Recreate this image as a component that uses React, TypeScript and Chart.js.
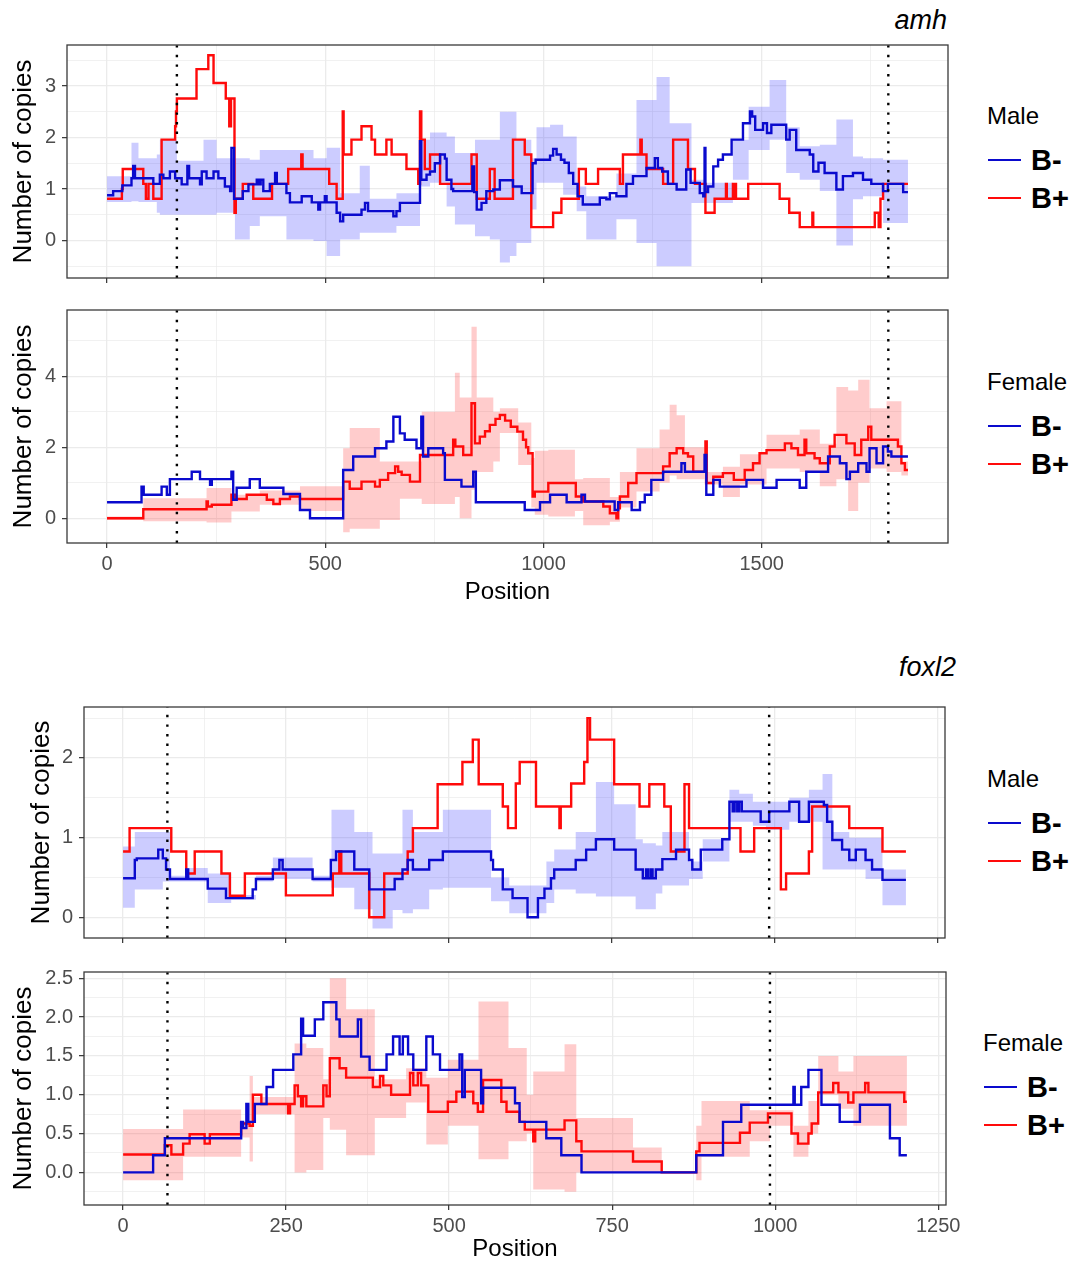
import React, { useEffect, useRef } from "react";
import { Chart, registerables } from "chart.js";
Chart.register(...registerables);

// ---------- DATA ----------
// step series: [position, copies] (value holds from position until the next one)
const amhMaleBminus = [[0,0.88],[14,0.96],[35,1.07],[56,1.21],[60,1.45],[64,1.21],[106,1.10],[121,1.28],[129,1.21],[144,1.34],[156,1.21],[171,1.09],[184,1.45],[188,1.21],[213,1.09],[217,1.34],[228,1.21],[244,1.34],[255,1.21],[270,1.05],[282,0.96],[285,1.80],[291,0.81],[311,0.96],[324,1.09],[343,1.18],[348,1.09],[352,1.18],[358,0.96],[373,1.10],[385,1.31],[389,1.10],[411,0.92],[419,0.74],[446,0.86],[469,0.74],[484,0.60],[488,0.74],[499,0.86],[503,0.74],[526,0.54],[534,0.37],[541,0.50],[583,0.60],[591,0.73],[598,0.57],[656,0.47],[663,0.57],[671,0.73],[717,1.93],[720,1.18],[732,1.28],[740,1.34],[751,1.50],[763,1.67],[774,1.59],[778,1.18],[789,1.00],[793,0.96],[837,1.44],[841,0.94],[847,0.60],[858,0.73],[869,0.96],[885,0.99],[900,1.17],[930,1.05],[950,0.92],[975,1.50],[982,1.57],[1015,1.65],[1022,1.78],[1030,1.67],[1040,1.57],[1048,1.51],[1058,1.31],[1068,1.10],[1078,0.86],[1090,0.70],[1129,0.83],[1144,0.80],[1152,0.92],[1167,0.86],[1190,1.10],[1205,1.25],[1236,1.41],[1255,1.60],[1262,1.41],[1272,1.34],[1285,1.10],[1305,0.99],[1327,1.38],[1337,1.12],[1358,0.92],[1366,0.86],[1369,1.80],[1371,0.94],[1377,1.05],[1389,1.44],[1400,1.57],[1411,1.67],[1431,1.96],[1457,2.28],[1473,2.51],[1478,2.41],[1485,2.15],[1503,2.28],[1512,2.09],[1522,2.25],[1556,1.96],[1564,2.15],[1579,1.76],[1610,1.67],[1618,1.34],[1630,1.51],[1644,1.31],[1671,0.99],[1686,1.25],[1709,1.31],[1732,1.18],[1751,1.10],[1778,0.96],[1789,1.10],[1824,0.94],[1835,0.94]];
const amhMaleBplus = [[0,0.81],[34,1.0],[36,1.39],[83,1.10],[89,0.81],[95,1.10],[106,0.81],[125,1.96],[156,2.22],[158,2.51],[160,2.76],[205,3.33],[232,3.60],[244,3.06],[272,2.76],[280,2.22],[284,2.76],[292,0.54],[295,0.81],[311,1.10],[335,0.81],[378,1.10],[415,1.39],[445,1.67],[448,1.39],[509,1.10],[526,0.81],[540,2.51],[542,1.67],[560,1.96],[583,2.22],[606,1.96],[614,1.67],[640,1.96],[652,1.67],[686,1.39],[713,1.10],[717,2.51],[720,1.96],[728,1.39],[740,1.67],[763,1.10],[835,1.67],[847,0.81],[877,1.39],[888,0.81],[930,1.96],[957,1.67],[972,0.26],[1022,0.54],[1041,0.81],[1081,1.39],[1097,1.10],[1125,1.39],[1175,1.10],[1182,1.67],[1222,1.96],[1225,1.67],[1236,1.39],[1274,1.10],[1297,1.96],[1331,1.39],[1347,1.10],[1371,0.54],[1392,0.81],[1418,1.10],[1420,0.81],[1434,1.10],[1436,0.81],[1438,1.10],[1441,0.81],[1469,1.10],[1541,0.81],[1563,0.54],[1587,0.26],[1616,0.54],[1618,0.26],[1759,0.54],[1768,0.26],[1772,0.81],[1778,1.10],[1835,1.10]];
// ribbons: [position, lower, upper]
const amhMaleBminusBand = [[0,0.75,1.25],[56,0.76,1.90],[72,0.75,1.60],[114,0.54,1.67],[121,0.50,1.96],[160,0.50,1.55],[221,0.50,1.96],[251,0.54,1.60],[293,0.02,1.60],[327,0.28,1.57],[350,0.47,1.76],[411,0.02,1.76],[473,-0.01,1.60],[503,-0.30,1.80],[534,0.02,0.92],[579,0.15,1.45],[602,0.15,0.81],[663,0.28,0.92],[717,1.05,1.96],[740,1.12,2.10],[778,0.66,2.02],[797,0.31,1.70],[843,0.08,1.96],[877,0.02,1.96],[900,-0.43,2.50],[923,-0.30,2.50],[938,-0.05,1.96],[972,0.60,1.60],[984,1.12,2.20],[1015,1.12,2.25],[1045,0.89,2.02],[1076,0.57,1.05],[1098,0.02,0.86],[1167,0.41,1.30],[1213,-0.05,2.73],[1259,-0.50,3.18],[1289,-0.50,2.28],[1339,0.73,1.18],[1369,0.73,1.12],[1434,1.18,1.96],[1470,1.76,2.60],[1518,1.96,3.12],[1556,1.31,2.20],[1587,1.18,1.83],[1633,0.96,1.86],[1671,-0.10,2.35],[1709,0.80,1.63],[1732,0.86,1.60],[1778,0.34,1.57],[1835,0.34,1.57]];

const amhFemaleBminus = [[0,0.45],[79,0.89],[84,0.66],[125,0.89],[137,0.66],[144,1.10],[194,1.31],[213,1.10],[236,0.94],[240,1.10],[285,1.31],[289,0.52],[297,0.86],[327,1.10],[350,0.86],[404,0.68],[442,0.23],[465,0.0],[541,1.36],[564,1.74],[614,1.97],[640,2.16],[656,2.86],[671,2.39],[682,2.21],[709,1.97],[720,2.86],[724,1.74],[736,1.97],[770,1.83],[774,1.08],[812,0.89],[839,1.31],[845,0.45],[957,0.23],[992,0.45],[1015,0.66],[1053,0.45],[1087,0.66],[1095,0.47],[1163,0.23],[1171,0.45],[1202,0.23],[1221,0.45],[1232,0.66],[1247,1.08],[1274,1.31],[1316,1.55],[1324,1.31],[1369,1.78],[1373,0.66],[1389,1.08],[1404,0.89],[1465,1.08],[1503,0.86],[1534,1.08],[1587,0.86],[1602,1.31],[1652,1.74],[1679,1.55],[1694,1.10],[1702,1.31],[1721,1.55],[1740,1.31],[1747,1.97],[1763,1.55],[1778,2.02],[1789,1.88],[1797,1.74],[1835,1.74]];
const amhFemaleBplus = [[0,0],[83,0.25],[228,0.47],[231,0.33],[240,0.38],[285,0.66],[293,0.54],[320,0.66],[366,0.52],[381,0.40],[396,0.54],[419,0.61],[442,0.54],[541,1.03],[556,0.83],[583,1.03],[614,0.89],[625,1.08],[644,1.27],[660,1.46],[667,1.31],[675,1.22],[694,1.03],[717,1.78],[793,2.21],[798,2.02],[816,1.78],[835,3.24],[843,2.11],[854,2.30],[866,2.45],[877,2.63],[890,2.80],[900,2.91],[912,2.75],[925,2.58],[940,2.44],[953,2.21],[960,2.00],[965,1.83],[975,0.61],[980,0.75],[1011,0.99],[1074,0.61],[1091,0.47],[1137,0.33],[1152,0.14],[1167,0.0],[1171,0.28],[1175,0.61],[1194,0.99],[1213,1.27],[1274,1.46],[1289,1.83],[1305,1.97],[1320,1.83],[1331,1.74],[1343,1.31],[1371,2.16],[1374,0.99],[1389,1.17],[1411,1.27],[1436,1.08],[1461,1.36],[1480,1.55],[1495,1.83],[1511,1.92],[1553,2.11],[1568,1.97],[1583,1.78],[1598,2.21],[1602,1.83],[1621,1.69],[1633,1.55],[1656,2.02],[1667,2.35],[1694,2.11],[1713,1.78],[1728,2.21],[1744,2.58],[1751,2.21],[1812,2.02],[1820,1.55],[1828,1.36],[1835,1.36]];
const amhFemaleBplusBand = [[0,-0.05,0.05],[83,-0.09,0.56],[228,-0.12,0.85],[285,0.19,0.66],[350,0.38,0.78],[442,0.20,0.90],[541,-0.40,1.97],[556,-0.30,2.54],[625,-0.05,1.60],[671,0.55,1.60],[721,0.40,3.00],[797,0.60,4.10],[808,0.00,3.40],[835,0.80,5.40],[847,1.30,3.40],[885,1.60,3.00],[900,2.40,3.10],[942,1.50,2.70],[972,0.30,1.70],[980,0.10,1.90],[1011,0.05,1.93],[1072,0.20,1.10],[1091,-0.20,1.13],[1152,-0.10,0.60],[1175,0.30,1.30],[1213,0.75,1.97],[1266,1.00,2.50],[1289,1.20,3.20],[1305,1.10,2.90],[1324,1.10,2.00],[1369,0.95,1.30],[1411,0.60,1.45],[1450,0.95,1.80],[1511,1.40,2.35],[1587,1.30,2.50],[1633,0.90,2.10],[1671,1.10,3.70],[1698,0.20,3.60],[1721,1.00,3.90],[1747,1.40,3.10],[1786,1.30,3.30],[1820,1.20,1.60],[1835,1.20,1.60]];

const foxl2MaleBminus = [[0,0.49],[18,0.72],[21,0.74],[54,0.85],[61,0.74],[66,0.60],[72,0.48],[97,0.6],[100,0.48],[130,0.36],[158,0.24],[199,0.35],[204,0.48],[230,0.6],[240,0.72],[245,0.6],[291,0.48],[319,0.72],[327,0.825],[355,0.6],[378,0.35],[417,0.48],[429,0.6],[437,0.72],[445,0.6],[470,0.72],[491,0.825],[565,0.72],[568,0.6],[583,0.35],[598,0.24],[621,0.0],[637,0.24],[647,0.36],[657,0.49],[662,0.6],[695,0.72],[711,0.85],[726,0.98],[754,0.85],[787,0.6],[798,0.49],[803,0.6],[806,0.49],[810,0.6],[813,0.49],[818,0.6],[828,0.73],[849,0.85],[869,0.72],[874,0.6],[887,0.85],[920,0.98],[931,1.45],[936,1.33],[939,1.45],[943,1.33],[946,1.45],[950,1.33],[979,1.2],[992,1.33],[1023,1.45],[1038,1.2],[1053,1.45],[1076,1.41],[1081,1.2],[1089,0.97],[1104,0.85],[1115,0.72],[1125,0.85],[1140,0.72],[1150,0.6],[1166,0.47],[1202,0.47]];
const foxl2MaleBplus = [[0,0.825],[10,1.12],[74,0.825],[97,0.55],[110,0.825],[151,0.55],[164,0.27],[187,0.55],[250,0.275],[322,0.55],[332,0.825],[335,0.55],[378,0.0],[401,0.55],[437,0.825],[445,1.12],[483,1.67],[521,1.95],[537,2.23],[546,1.67],[583,1.39],[591,1.12],[603,1.68],[609,1.95],[634,1.39],[670,1.12],[672,1.39],[688,1.68],[708,1.95],[713,2.5],[717,2.23],[754,1.67],[793,1.39],[808,1.67],[831,1.39],[841,0.825],[862,1.67],[869,1.12],[948,0.825],[969,1.12],[1010,0.35],[1018,0.55],[1053,0.825],[1058,1.39],[1115,1.12],[1166,0.825],[1202,0.825]];
const foxl2MaleBminusBand = [[0,0.12,0.89],[18,0.35,1.07],[61,0.45,1.07],[72,0.45,0.52],[97,0.45,0.62],[130,0.18,0.55],[166,0.22,0.28],[204,0.45,0.52],[230,0.48,0.75],[291,0.45,0.52],[320,0.37,1.35],[355,0.10,1.07],[383,-0.14,0.80],[414,0.09,0.80],[429,0.05,1.35],[445,0.10,1.07],[470,0.35,1.07],[491,0.37,1.35],[565,0.20,0.50],[593,0.05,0.40],[650,0.18,0.70],[662,0.35,0.85],[695,0.30,1.07],[726,0.26,1.70],[754,0.26,1.42],[787,0.10,0.98],[798,0.10,0.93],[818,0.30,0.90],[828,0.40,1.07],[869,0.48,0.70],[890,0.70,0.98],[931,1.20,1.60],[946,1.20,1.55],[967,1.15,1.45],[987,1.10,1.45],[1023,1.20,1.50],[1053,1.20,1.60],[1074,0.60,1.80],[1089,0.60,1.07],[1115,0.60,1.00],[1140,0.48,1.00],[1166,0.15,0.60],[1202,0.15,0.60]];

const foxl2FemaleBminus = [[0,0.0],[46,0.22],[64,0.44],[181,0.65],[184,0.57],[189,0.88],[192,0.65],[202,0.88],[220,1.1],[230,1.32],[261,1.52],[273,1.98],[276,1.76],[294,1.97],[307,2.19],[327,1.97],[332,1.75],[360,1.97],[365,1.49],[378,1.32],[404,1.52],[414,1.75],[424,1.52],[429,1.75],[437,1.52],[445,1.32],[465,1.75],[475,1.52],[486,1.32],[516,1.52],[520,0.97],[524,1.32],[549,0.89],[552,1.09],[601,0.89],[608,0.65],[649,0.44],[672,0.22],[703,0.0],[879,0.22],[920,0.65],[948,0.87],[1028,1.1],[1030,0.87],[1040,1.1],[1051,1.32],[1071,0.87],[1099,0.65],[1130,0.87],[1176,0.44],[1191,0.22],[1202,0.22]];
const foxl2FemaleBplus = [[0,0.23],[64,0.35],[74,0.23],[92,0.37],[102,0.49],[125,0.37],[133,0.49],[181,0.63],[194,0.6],[199,1.0],[212,0.88],[253,0.76],[256,0.88],[263,1.12],[268,0.98],[273,0.85],[276,0.98],[281,0.85],[307,1.12],[312,0.98],[317,1.47],[332,1.34],[342,1.22],[383,1.10],[394,1.24],[399,1.12],[411,1.0],[440,1.28],[445,1.12],[452,1.28],[457,1.12],[468,0.78],[498,0.91],[511,1.04],[537,0.89],[544,0.78],[552,1.19],[580,0.91],[588,0.78],[608,0.65],[616,0.55],[629,0.40],[632,0.55],[677,0.67],[695,0.4],[703,0.27],[782,0.14],[826,0.0],[879,0.27],[884,0.38],[946,0.51],[961,0.64],[989,0.76],[1025,0.5],[1035,0.37],[1051,0.5],[1056,0.63],[1066,1.03],[1089,1.15],[1097,1.03],[1112,0.9],[1120,1.03],[1138,1.15],[1143,1.03],[1198,0.91],[1202,0.91]];
const foxl2FemaleBplusBand = [[0,-0.10,0.56],[92,0.20,0.81],[181,0.45,0.65],[194,0.14,1.24],[199,0.75,0.97],[263,0.0,1.66],[281,0.03,1.60],[307,0.70,1.20],[317,0.55,2.50],[342,0.22,2.10],[386,0.70,1.20],[434,0.90,1.34],[465,0.36,1.22],[498,0.60,1.45],[545,0.17,2.20],[591,0.40,1.60],[619,0.50,1.00],[629,-0.22,1.30],[677,-0.25,1.65],[695,0.0,0.70],[782,0.0,0.32],[826,0.0,0.0],[879,-0.10,0.60],[887,0.20,0.92],[961,0.40,0.80],[992,0.60,0.80],[1028,0.20,0.60],[1051,0.50,0.92],[1066,1.00,1.50],[1097,0.82,1.30],[1120,0.60,1.50],[1202,0.60,1.50]];

const amhCutoffs = [160, 1790];
const foxl2Cutoffs = [68, 992];

const amhXTicks = [0, 500, 1000, 1500];
const amhXMinor = [250, 750, 1250, 1750];
const foxl2XTicks = [0, 250, 500, 750, 1000, 1250];
const foxl2XMinor = [125, 375, 625, 875, 1125];
const amhMaleYTicks = [0, 1, 2, 3];
const amhMaleYMinor = [-0.5, 0.5, 1.5, 2.5, 3.5];
const amhFemaleYTicks = [0, 2, 4];
const amhFemaleYMinor = [1, 3, 5];
const foxl2MaleYTicks = [0, 1, 2];
const foxl2MaleYMinor = [0.5, 1.5, 2.5];
const foxl2FemaleYTicks = [0, 0.5, 1, 1.5, 2, 2.5];
const foxl2FemaleYMinor = [-0.25, 0.25, 0.75, 1.25, 1.75, 2.25];

const seriesNames = ["B-", "B+"];
const FONT = "'Liberation Sans', Arial, Helvetica, sans-serif";
const BLUE = "#0a0acd";
const RED = "#ff0a0a";
const BLUE_BAND = "rgba(40,40,255,0.24)";
const RED_BAND = "rgba(255,40,40,0.24)";

type Spec = {
  bminus: number[][]; bplus: number[][]; band: number[][]; bandColor: string;
  cutoffs: number[];
  xMin: number; xMax: number; xMajor: number[]; xMinor: number[];
  yMin: number; yMax: number; yMajor: number[]; yMinor: number[]; yDec: number;
  showX: boolean;
  top: number; height: number; padTop: number; padRight: number;
  yAxisWidth: number; xAxisHeight: number; yTitlePad: number; xTitlePad: number;
};

const framePlugin = {
  id: "frame",
  afterDatasetsDraw(chart: any) {
    const { ctx, chartArea: a } = chart;
    ctx.save();
    ctx.strokeStyle = "#3a3a3a";
    ctx.lineWidth = 1.3;
    ctx.strokeRect(a.left, a.top, a.right - a.left, a.bottom - a.top);
    ctx.restore();
  },
};

function Panel({ s }: { s: Spec }) {
  const ref = useRef<HTMLCanvasElement>(null);
  useEffect(() => {
    if (!ref.current) return;
    const mx = new Set(s.xMajor);
    const my = new Set(s.yMajor);
    const pts = (arr: number[][], k: number) => arr.map((p) => ({ x: p[0], y: p[k] }));
    const datasets: any[] = [
      { data: pts(s.band, 1), stepped: "before", borderWidth: 0, pointRadius: 0, fill: false, order: 6 },
      { data: pts(s.band, 2), stepped: "before", borderWidth: 0, pointRadius: 0, fill: "-1", backgroundColor: s.bandColor, order: 5 },
      { label: seriesNames[1], data: pts(s.bplus, 1), stepped: "before", borderColor: RED, borderWidth: 2.4, pointRadius: 0, fill: false, order: 3 },
      { label: seriesNames[0], data: pts(s.bminus, 1), stepped: "before", borderColor: BLUE, borderWidth: 2.4, pointRadius: 0, fill: false, order: 2 },
      ...s.cutoffs.map((c) => ({
        data: [{ x: c, y: s.yMin }, { x: c, y: s.yMax }],
        borderColor: "#000", borderWidth: 2.4, borderDash: [2.4, 7.2], pointRadius: 0, fill: false, order: 1,
      })),
    ];
    const grid = (major: Set<number>) => ({
      color: "#ebebeb",
      lineWidth: (ctx: any) => (ctx.tick && major.has(ctx.tick.value) ? 1.3 : 0.7),
      tickColor: (ctx: any) => (ctx.tick && major.has(ctx.tick.value) ? "#333" : "rgba(0,0,0,0)"),
      tickWidth: 1.2,
      tickLength: 5,
      drawTicks: true,
    });
    const chart = new Chart(ref.current, {
      type: "line",
      data: { datasets },
      plugins: [framePlugin],
      options: {
        animation: false,
        responsive: false,
        maintainAspectRatio: false,
        events: [],
        layout: { padding: { top: s.padTop, right: s.padRight, left: 0, bottom: 0 } },
        plugins: { legend: { display: false }, tooltip: { enabled: false } },
        scales: {
          x: {
            type: "linear",
            min: s.xMin,
            max: s.xMax,
            afterBuildTicks: (sc: any) => {
              sc.ticks = [...s.xMajor, ...s.xMinor].sort((a, b) => a - b).map((v) => ({ value: v }));
            },
            afterFit: (sc: any) => { sc.height = s.xAxisHeight; sc.paddingLeft = 0; sc.paddingRight = 0; },
            ticks: {
              autoSkip: false, maxRotation: 0, padding: 4, color: "#4d4d4d",
              font: { family: FONT, size: 20 },
              callback: (v: any) => (s.showX && mx.has(v) ? String(v) : ""),
            },
            grid: grid(mx),
            border: { display: false },
            title: { display: s.showX, text: "Position", color: "#000", font: { family: FONT, size: 24 }, padding: { top: 0, bottom: s.xTitlePad } },
          },
          y: {
            type: "linear",
            position: "left",
            min: s.yMin,
            max: s.yMax,
            afterBuildTicks: (sc: any) => {
              sc.ticks = [...s.yMajor, ...s.yMinor].sort((a, b) => a - b).map((v) => ({ value: v }));
            },
            afterFit: (sc: any) => { sc.width = s.yAxisWidth; sc.paddingTop = 0; sc.paddingBottom = 0; },
            ticks: {
              autoSkip: false, padding: 6, color: "#4d4d4d",
              font: { family: FONT, size: 20 },
              callback: (v: any) => (my.has(v) ? Number(v).toFixed(s.yDec) : ""),
            },
            grid: grid(my),
            border: { display: false },
            title: { display: true, text: "Number of copies", color: "#000", font: { family: FONT, size: 26 }, padding: { top: s.yTitlePad, bottom: 0 } },
          },
        },
      } as any,
    });
    return () => chart.destroy();
  }, [s]);
  return (
    <canvas ref={ref} width={960} height={s.height}
      style={{ position: "absolute", left: 0, top: s.top, width: 960, height: s.height, display: "block" }} />
  );
}

const specs: Spec[] = [
  { bminus: amhMaleBminus, bplus: amhMaleBplus, band: amhMaleBminusBand, bandColor: BLUE_BAND, cutoffs: amhCutoffs,
    xMin: -91.75, xMax: 1926.75, xMajor: amhXTicks, xMinor: amhXMinor,
    yMin: -0.73, yMax: 3.8, yMajor: amhMaleYTicks, yMinor: amhMaleYMinor, yDec: 0, showX: false,
    top: 40, height: 250, padTop: 5, padRight: 12, yAxisWidth: 67, xAxisHeight: 12, yTitlePad: 8.4, xTitlePad: 0 },
  { bminus: amhFemaleBminus, bplus: amhFemaleBplus, band: amhFemaleBplusBand, bandColor: RED_BAND, cutoffs: amhCutoffs,
    xMin: -91.75, xMax: 1926.75, xMajor: amhXTicks, xMinor: amhXMinor,
    yMin: -0.7, yMax: 5.87, yMajor: amhFemaleYTicks, yMinor: amhFemaleYMinor, yDec: 0, showX: true,
    top: 300, height: 310, padTop: 10, padRight: 12, yAxisWidth: 67, xAxisHeight: 67, yTitlePad: 8.4, xTitlePad: 3.6 },
  { bminus: foxl2MaleBminus, bplus: foxl2MaleBplus, band: foxl2MaleBminusBand, bandColor: BLUE_BAND, cutoffs: foxl2Cutoffs,
    xMin: -60, xMax: 1262, xMajor: foxl2XTicks, xMinor: foxl2XMinor,
    yMin: -0.26, yMax: 2.64, yMajor: foxl2MaleYTicks, yMinor: foxl2MaleYMinor, yDec: 0, showX: false,
    top: 697, height: 255, padTop: 10, padRight: 15, yAxisWidth: 84, xAxisHeight: 14, yTitlePad: 26.4, xTitlePad: 0 },
  { bminus: foxl2FemaleBminus, bplus: foxl2FemaleBplus, band: foxl2FemaleBplusBand, bandColor: RED_BAND, cutoffs: foxl2Cutoffs,
    xMin: -60, xMax: 1262, xMajor: foxl2XTicks, xMinor: foxl2XMinor,
    yMin: -0.42, yMax: 2.58, yMajor: foxl2FemaleYTicks, yMinor: foxl2FemaleYMinor, yDec: 1, showX: true,
    top: 962, height: 302, padTop: 10, padRight: 14, yAxisWidth: 84, xAxisHeight: 59, yTitlePad: 8.4, xTitlePad: 0 },
];

const legends = [
  { title: "Male", y: 116, x: 987 },
  { title: "Female", y: 382, x: 987 },
  { title: "Male", y: 779, x: 987 },
  { title: "Female", y: 1043, x: 983 },
];

function Legend({ title, x, y }: { title: string; x: number; y: number }) {
  const rows = [
    { name: seriesNames[0], color: BLUE, cy: y + 44 },
    { name: seriesNames[1], color: RED, cy: y + 82 },
  ];
  return (
    <>
      <div style={{ position: "absolute", left: x, top: y - 15, height: 30, lineHeight: "30px", fontFamily: FONT, fontSize: 24, color: "#000", whiteSpace: "nowrap" }}>{title}</div>
      {rows.map((r) => (
        <React.Fragment key={r.name}>
          <div style={{ position: "absolute", left: x + 1, top: r.cy - 1, width: 33, height: 2, background: r.color }} />
          <div style={{ position: "absolute", left: x + 44, top: r.cy - 17, height: 34, lineHeight: "34px", fontFamily: FONT, fontSize: 29, fontWeight: "bold", color: "#000", whiteSpace: "nowrap" }}>{r.name}</div>
        </React.Fragment>
      ))}
    </>
  );
}

export default function App() {
  return (
    <div style={{ position: "absolute", left: 0, top: 0, width: 1077, height: 1265, background: "#fff", overflow: "hidden" }}>
      {specs.map((s, i) => <Panel key={i} s={s} />)}
      {legends.map((l, i) => <Legend key={i} {...l} />)}
      <div style={{ position: "absolute", right: 130, top: 4, height: 32, lineHeight: "32px", fontFamily: FONT, fontSize: 27, fontStyle: "italic", color: "#000" }}>amh</div>
      <div style={{ position: "absolute", right: 121, top: 651, height: 32, lineHeight: "32px", fontFamily: FONT, fontSize: 27, fontStyle: "italic", color: "#000" }}>foxl2</div>
    </div>
  );
}
